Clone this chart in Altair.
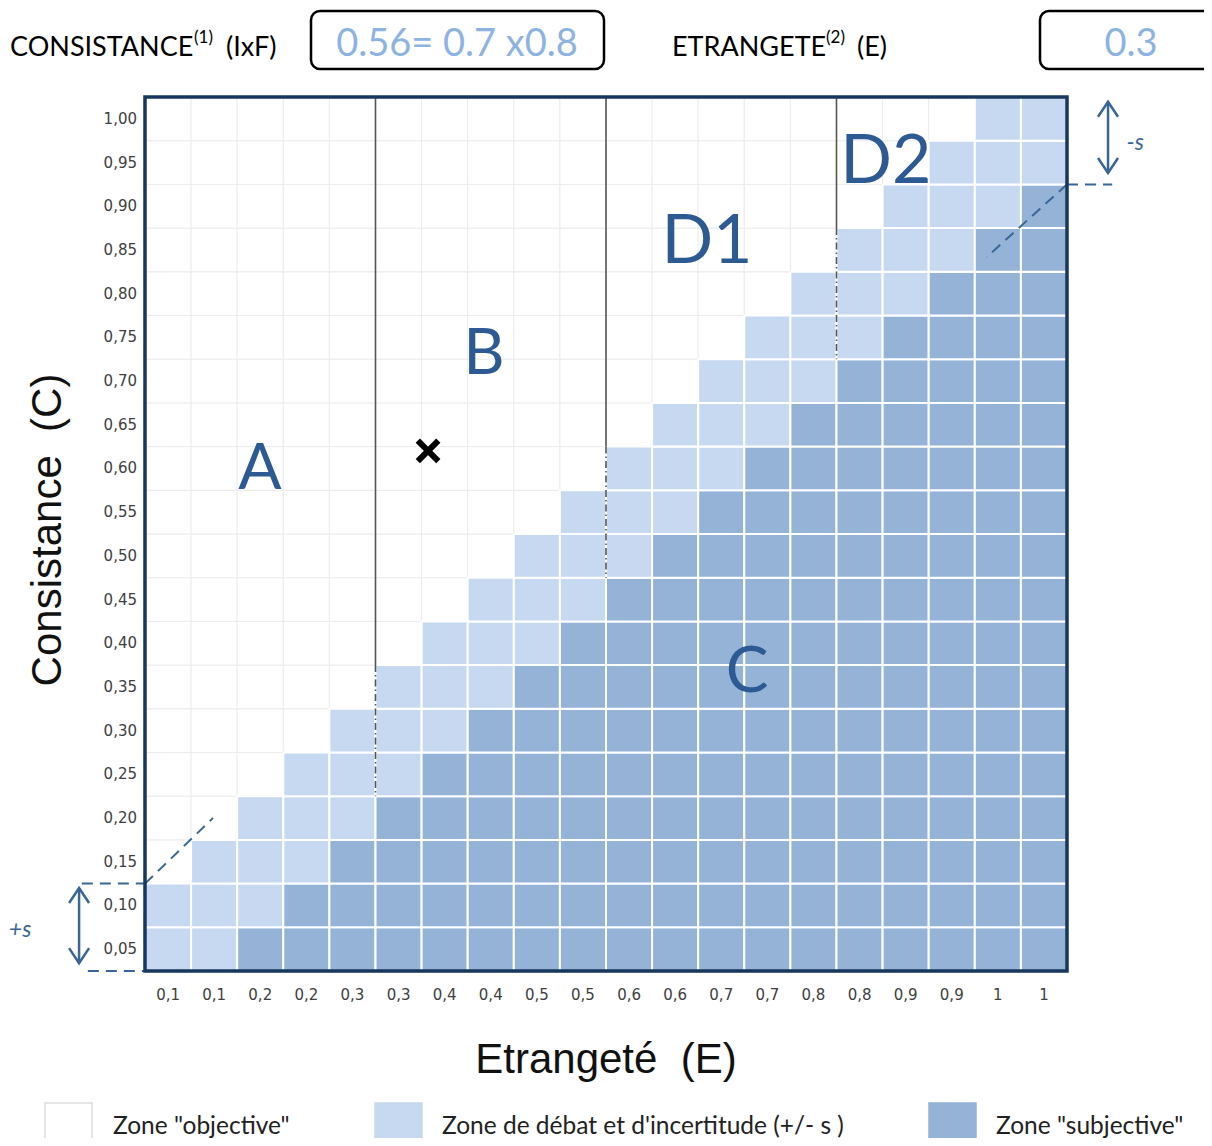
import altair as alt
import pandas as pd

# ---------------- data ----------------
x_labels = ["0,1", "0,1", "0,2", "0,2", "0,3", "0,3", "0,4", "0,4", "0,5", "0,5",
            "0,6", "0,6", "0,7", "0,7", "0,8", "0,8", "0,9", "0,9", "1", "1"]
y_labels = ["0,05", "0,10", "0,15", "0,20", "0,25", "0,30", "0,35", "0,40", "0,45", "0,50",
            "0,55", "0,60", "0,65", "0,70", "0,75", "0,80", "0,85", "0,90", "0,95", "1,00"]
# dark ("subjective") cells per column, counted from the bottom
dark_cells = [0, 0, 1, 2, 3, 4, 5, 6, 7, 8, 9, 10, 11, 12, 13, 14, 15, 16, 17, 18]
# top of the light ("debate") band per column, in cells from the bottom
light_top = [2, 3, 4, 5, 6, 7, 8, 9, 10, 11, 12, 13, 14, 15, 16, 17, 18, 19, 20, 20]

zone_names = ['Zone "objective"', "Zone de débat et d'incertitude (+/- s )", 'Zone "subjective"']
zone_colors = ["#ffffff", "#c6d9f1", "#95b3d7"]

# zone boundaries (column index): solid from the top down to bound_solid_end, dash-dot to bound_dash_end
bound_x = [5, 10, 15]
bound_solid_end = [7, 12, 17]
bound_dash_end = [4, 9, 14]

region_names = ["A", "B", "D1", "D2", "C"]
region_col = [2.49, 7.35, 12.19, 16.07, 13.06]
region_row = [11.46, 14.1, 16.66, 18.49, 6.82]

cross_col = [6.14]
cross_row = [11.9]

header_label_1 = "CONSISTANCE"
header_sup_1 = "(1)"
header_unit_1 = "(IxF)"
header_value_1 = "0.56= 0.7 x0.8"
header_label_2 = "ETRANGETE"
header_sup_2 = "(2)"
header_unit_2 = "(E)"
header_value_2 = "0.3"

# ---------------- tables ----------------
rows = []
for c in range(20):
    for r in range(20):
        if r < dark_cells[c]:
            z = 2
        elif r < light_top[c]:
            z = 1
        else:
            z = 0
        rows.append(dict(x0=c, x1=c + 1, y0=r, y1=r + 1, z=z, zone=zone_names[z]))
cells = pd.DataFrame(rows)

W, H = 922, 874
X = alt.Scale(domain=[0, 20], nice=False, zero=False)
Y = alt.Scale(domain=[0, 20], nice=False, zero=False)
BLUE = "#3a6597"
LABEL_BLUE = "#2e5a94"


def xq(f):
    return alt.X(f, type="quantitative", scale=X, axis=None)


def yq(f):
    return alt.Y(f, type="quantitative", scale=Y, axis=None)


white_cells = alt.Chart(cells).transform_filter("datum.z == 0").mark_rect(
    fill="#ffffff", stroke="#ececec", strokeWidth=1
).encode(x=xq("x0"), x2="x1", y=yq("y0"), y2="y1")

color_cells = alt.Chart(cells).transform_filter("datum.z > 0").mark_rect(
    stroke="#ffffff", strokeWidth=2
).encode(
    x=xq("x0"), x2="x1", y=yq("y0"), y2="y1",
    fill=alt.Fill("zone:N", scale=alt.Scale(domain=zone_names, range=zone_colors), legend=None),
)

bounds = pd.DataFrame({"bx": bound_x, "top": [20] * 3, "solid_end": bound_solid_end, "dash_end": bound_dash_end})
solid_lines = alt.Chart(bounds).mark_rule(color="#555555", strokeWidth=1.6).encode(
    x=xq("bx"), y=yq("top"), y2="solid_end")
dash_lines = alt.Chart(bounds).mark_rule(color="#555555", strokeWidth=1.6, strokeDash=[7, 3, 1.5, 3]).encode(
    x=xq("bx"), y=yq("solid_end"), y2="dash_end")

# tolerance (s) annotations, in grid units
s_lines = pd.DataFrame({
    "xa": [0.0, 20.0, -1.37, -1.24, 20.0],
    "xb": [1.475, 18.26, 0.0, 0.0, 20.98],
    "ya": [2.0, 18.0, 2.0, 0.0, 18.0],
    "yb": [3.5, 16.34, 2.0, 0.0, 18.0],
})
s_rules = alt.Chart(s_lines).mark_rule(color=BLUE, strokeWidth=2, strokeDash=[11, 7]).encode(
    x=xq("xa"), x2="xb", y=yq("ya"), y2="yb")

arrows = pd.DataFrame({"ax": [-1.43, 20.89], "ya": [0.18, 18.26], "yb": [1.9, 19.89]})
arrow_shaft = alt.Chart(arrows).mark_rule(color=BLUE, strokeWidth=2.5).encode(
    x=xq("ax"), y=yq("ya"), y2="yb")
arrow_up = alt.Chart(arrows).mark_point(
    shape="M-1,1.5L0,0L1,1.5", filled=False, size=400, color=BLUE, strokeWidth=2.5, opacity=1
).encode(x=xq("ax"), y=yq("yb"))
arrow_down = alt.Chart(arrows).mark_point(
    shape="M-1,-1.5L0,0L1,-1.5", filled=False, size=400, color=BLUE, strokeWidth=2.5, opacity=1
).encode(x=xq("ax"), y=yq("ya"))

s_text = pd.DataFrame({"sx": [-2.71, 21.48], "sy": [0.94, 18.95], "t": ["+s", "-s"]})
s_labels = alt.Chart(s_text).mark_text(
    font="Lato", fontSize=23, fontStyle="italic", color=BLUE, align="center", baseline="middle"
).encode(x=xq("sx"), y=yq("sy"), text="t:N")

regions = pd.DataFrame({"rx": region_col, "ry": region_row, "t": region_names,
                        "fs": [64, 64, 68, 68, 64]})
region_text = alt.Chart(regions).mark_text(
    font="Lato", color=LABEL_BLUE, align="center", baseline="middle"
).encode(x=xq("rx"), y=yq("ry"), text="t:N",
         size=alt.Size("fs:Q", scale=None, legend=None))

cross = alt.Chart(pd.DataFrame({"cx": cross_col, "cy": cross_row})).mark_point(
    shape="M-1,-1L1,1M1,-1L-1,1", filled=False, size=420, color="#000000", strokeWidth=6, opacity=1
).encode(x=xq("cx"), y=yq("cy"))

frame = alt.Chart(pd.DataFrame({"a": [0], "b": [20]})).mark_rect(
    fillOpacity=0, stroke="#17375e", strokeWidth=3.5
).encode(x=xq("a"), x2="b", y=yq("a"), y2="b")

xl = pd.DataFrame({"xc": [i + 0.5 for i in range(20)], "lab": x_labels})
x_ticks = alt.Chart(xl).mark_text(font="DejaVu Sans", fontSize=15, color="#404040", baseline="middle").encode(
    x=xq("xc"), y=alt.value(H + 24), text="lab:N")

yl = pd.DataFrame({"yc": [i + 0.5 for i in range(20)], "lab": y_labels})
y_ticks = alt.Chart(yl).mark_text(font="DejaVu Sans", fontSize=15, color="#404040", align="right",
                                  baseline="middle").encode(
    x=alt.value(-8), y=yq("yc"), text="lab:N")


def label(txt, x, y, **kw):
    return alt.Chart(pd.DataFrame({"t": [txt]})).mark_text(**kw).encode(
        x=alt.value(x), y=alt.value(y), text="t:N")


def box(x0, x1, y0, y1):
    return alt.Chart(pd.DataFrame({"t": [0]})).mark_rect(
        fill="#ffffff", stroke="#000000", strokeWidth=2.5, cornerRadius=9
    ).encode(x=alt.value(x0), x2=alt.value(x1), y=alt.value(y0), y2=alt.value(y1))


x_title = label("Etrangeté\u00a0 (E)", W / 2, 963, font="Liberation Sans", fontSize=42,
                color="#111111", align="center", baseline="middle")
y_title = label("Consistance\u00a0 (C)", -97, 433, font="Liberation Sans", fontSize=42,
                color="#111111", align="center", baseline="middle", angle=270)

HF = "Lato"
AB = "alphabetic"
header = [
    label(header_label_1, -135, -41, font=HF, fontSize=27, color="#000000", align="left", baseline=AB),
    label(header_sup_1, 49, -54, font=HF, fontSize=17, color="#000000", align="left", baseline=AB),
    label(header_unit_1, 81, -41, font=HF, fontSize=27, color="#000000", align="left", baseline=AB),
    box(166, 459, -86, -28),
    label(header_value_1, 312, -41, font=HF, fontSize=38, color="#8db3e2", align="center", baseline=AB),
    label(header_label_2, 527, -41, font=HF, fontSize=27, color="#000000", align="left", baseline=AB),
    label(header_sup_2, 681, -54, font=HF, fontSize=17, color="#000000", align="left", baseline=AB),
    label(header_unit_2, 712, -41, font=HF, fontSize=27, color="#000000", align="left", baseline=AB),
    box(895, 1120, -86, -28),
    label(header_value_2, 986, -41, font=HF, fontSize=38, color="#8db3e2", align="center", baseline=AB),
]

leg_x = [-100, 230, 784]
leg_tx = [-32, 297, 851]
legend = []
for i in range(3):
    legend.append(alt.Chart(pd.DataFrame({"z": [zone_names[i]]})).mark_rect(
        stroke="#dddddd" if i == 0 else zone_colors[i], strokeWidth=1.5
    ).encode(x=alt.value(leg_x[i]), x2=alt.value(leg_x[i] + 47), y=alt.value(1006), y2=alt.value(1060),
             fill=alt.Fill("z:N", scale=alt.Scale(domain=zone_names, range=zone_colors), legend=None)))
    legend.append(label(zone_names[i], leg_tx[i], 1037, font=HF, fontSize=24.5, color="#222222",
                        align="left", baseline=AB))

chart = alt.layer(
    white_cells, color_cells, solid_lines, dash_lines, s_rules, arrow_shaft, arrow_up, arrow_down,
    s_labels, region_text, cross, frame, x_ticks, y_ticks, x_title, y_title, *header, *legend
).properties(
    width=W, height=H,
    autosize=alt.AutoSizeParams(type="none"),
    padding={"left": 137, "top": 89, "right": 137, "bottom": 167},
).configure_view(stroke=None)

chart.save("out.html", embed_options={"renderer": "svg", "actions": False})
